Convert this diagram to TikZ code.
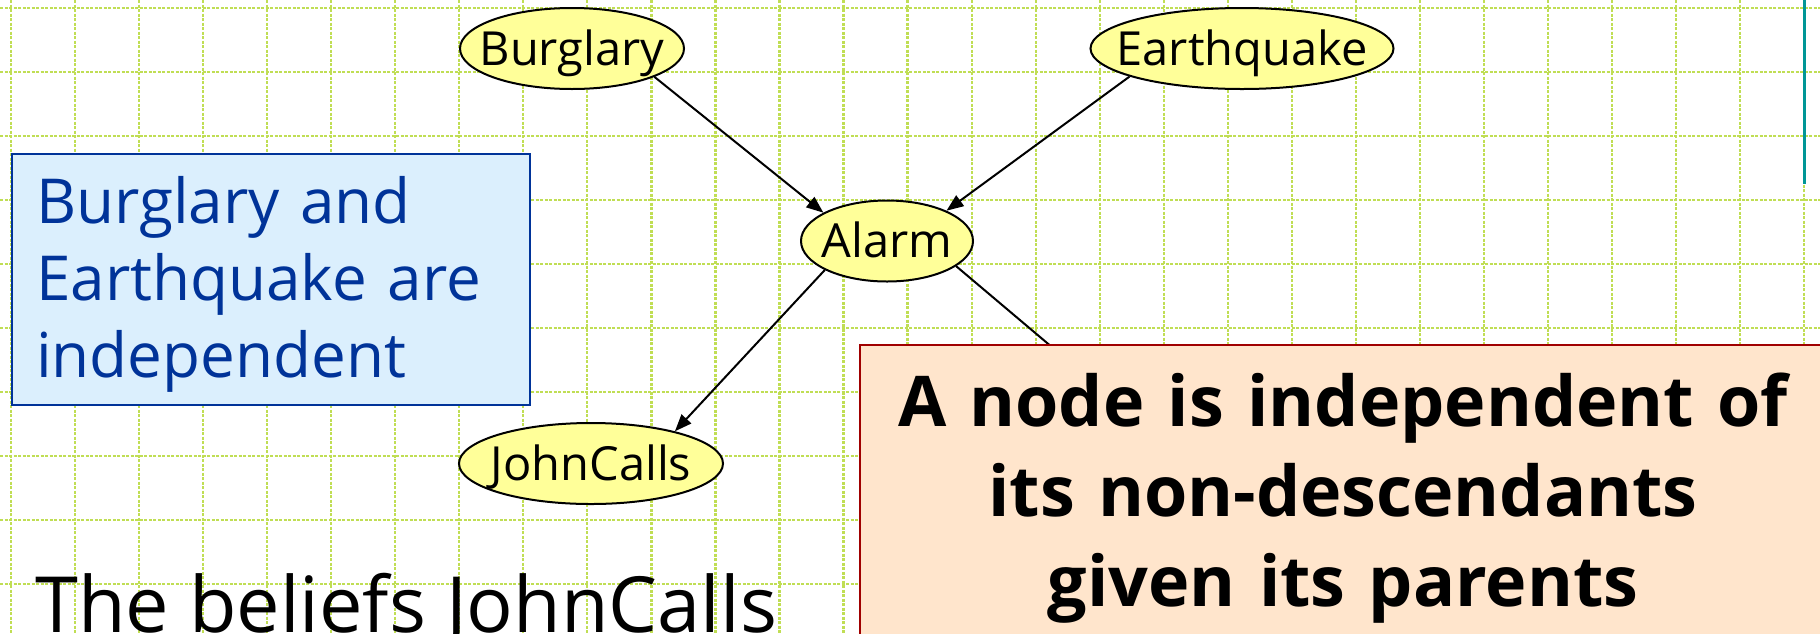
\documentclass[tikz,border=0pt]{standalone}
\usepackage{fontspec}
\setmainfont{Open Sans}
\usetikzlibrary{shapes.geometric,arrows.meta}
\definecolor{gridgreen}{RGB}{192,222,84}
\definecolor{nodeyellow}{RGB}{255,255,153}
\definecolor{notefill}{RGB}{219,239,253}
\definecolor{noteblue}{RGB}{0,51,153}
\definecolor{rulefill}{RGB}{255,229,204}
\definecolor{rulered}{RGB}{160,0,0}
\definecolor{slideteal}{RGB}{0,150,150}

\begin{document}
\begin{tikzpicture}[x=1pt,y=-1pt,
  gridline/.style={gridgreen, line width=2.2pt, dash pattern=on 3pt off 1.5pt},
  varnode/.style={ellipse, draw=black, line width=2pt, fill=nodeyellow,
    inner sep=0pt, minimum height=81pt},
  varlabel/.style={font=\fontsize{47}{56}\selectfont, text height=33.5pt,
    text depth=0pt, inner sep=0pt},
  link/.style={line width=2pt, -{Triangle[length=17pt,width=13pt]}},
  notebox/.style={draw=noteblue, fill=notefill, line width=2pt, inner sep=0pt},
  notetext/.style={text=noteblue, font=\fontsize{62}{77}\selectfont,
    text width=480pt, align=left, inner sep=0pt},
  rulebox/.style={draw=rulered, fill=rulefill, line width=2pt, inner sep=0pt},
  ruletext/.style={font=\bfseries\fontsize{70}{90}\selectfont,
    text width=950pt, align=center, inner sep=0pt}
]
\useasboundingbox (0,0) rectangle (1820,633);

% background grid
\foreach \k in {0,...,28}
  \draw[gridline] ({11+64.04*\k},0) -- ({11+64.04*\k},633);
\foreach \k in {0,...,9}
  \draw[gridline] (0,{8+64*\k}) -- (1820,{8+64*\k});

% slide edge marker
\draw[slideteal, line width=3pt] (1804,0) -- (1804,184);

% network variables
\node[varnode, minimum width=224pt, label={[varlabel]center:Burglary}] (burglary) at (572,48.5) {};
\node[varnode, minimum width=303pt, label={[varlabel]center:Earthquake}] (earthquake) at (1242,48.5) {};
\node[varnode, minimum width=172pt, label={[varlabel]center:Alarm}] (alarm) at (887,241) {};
\node[varnode, minimum width=264pt, label={[varlabel]center:JohnCalls}] (johncalls) at (591,463.5) {};
\coordinate (marycalls) at (1130,413);

% dependencies
\draw[link] (burglary.-19.5) -- (alarm.156.3);
\draw[link] (earthquake.-166.9) -- (alarm.27.3);
\draw[link] (alarm.205.1) -- (johncalls.21.9);
\draw[link] (alarm.-20.9) -- (marycalls);

% note on the two root causes
\node[notebox, anchor=north west, minimum width=518pt, minimum height=251pt] (indepbox) at (11,153) {};
\node[notetext, anchor=base west] (indeptext) at (36,223)
  {Burglary and\\Earthquake are\\independent};

% local Markov property
\node[rulebox, anchor=north west, minimum width=975pt, minimum height=300pt] (rulebox) at (859,344) {};
\node[ruletext, anchor=base] (ruletext) at (1343,426)
  {A node is independent of\\its non-descendants\\given its parents};

% running text
\node[anchor=base west, font=\fontsize{77.5}{80}\selectfont, inner sep=0pt] (beliefs) at (35,632)
  {The beliefs JohnCalls};
\end{tikzpicture}
\end{document}
